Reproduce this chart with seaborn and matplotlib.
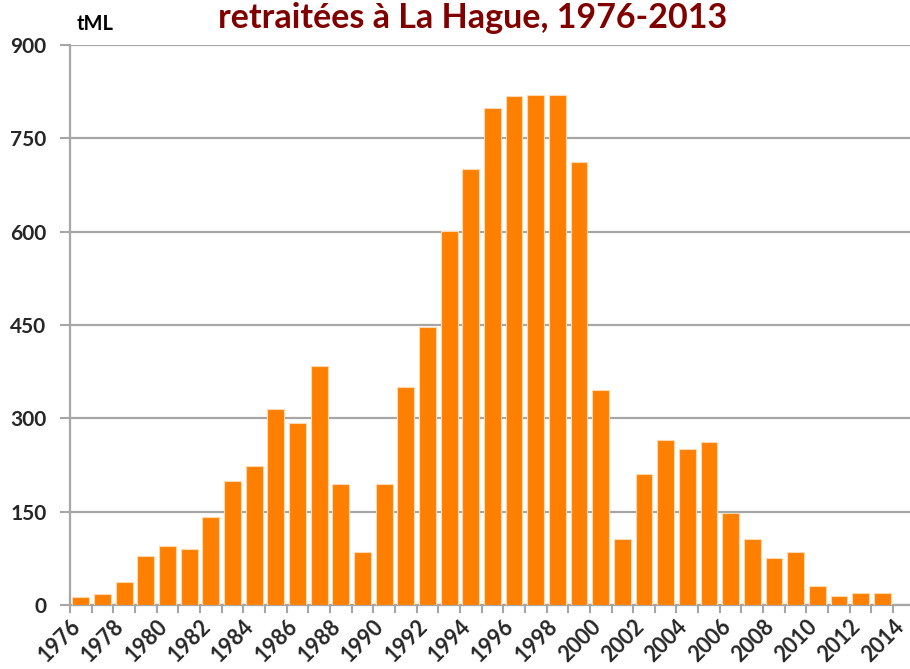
import matplotlib
matplotlib.use("Agg")
import matplotlib.pyplot as plt
import matplotlib.transforms as mtransforms
import seaborn as sns
import pandas as pd

years = list(range(1976, 2014))
values = [13, 18, 37, 79, 95, 90, 141, 200, 224, 315, 292, 384, 194, 85,
          194, 350, 447, 601, 700, 799, 818, 819, 820, 712, 346, 106, 210,
          265, 251, 262, 148, 106, 75, 85, 30, 14, 19, 19]
tick_years = list(range(1976, 2015))
y_ticks = [0, 150, 300, 450, 600, 750, 900]
title = "retraitées à La Hague, 1976-2013"
unit = "tML"

sns.set_theme(style="white")
plt.rcParams['font.family'] = ['Lato', 'DejaVu Sans']

df = pd.DataFrame({"year": [str(y) for y in years], "value": values})

fig = plt.figure(figsize=(9.1, 6.69), dpi=100)
ax = fig.add_axes([70/910, 1-605/669, 840/910, 560/669])

sns.barplot(data=df, x="year", y="value", color="#FF8000", saturation=1,
            width=0.78, edgecolor="#FFD9B0", linewidth=0.8, ax=ax, zorder=3)

ax.set_ylim(0, 900)
ax.set_xlim(-0.5, 38.28)
ax.set_yticks(y_ticks)
ax.set_yticklabels([str(v) for v in y_ticks], fontsize=15, fontweight="bold")
ax.yaxis.grid(True, color="#A6A6A6", linewidth=1.6, zorder=0)
ax.set_axisbelow(True)

pos = [i - 0.5 for i in range(len(tick_years))]
ax.set_xticks(pos)
labels = [str(y) if (y - 1976) % 2 == 0 else "" for y in tick_years]
ax.set_xticklabels(labels, rotation=45, ha="right", va="top",
                   rotation_mode="anchor", fontsize=15.5, fontweight="bold")
offset = mtransforms.ScaledTranslation(0.17, -0.08, fig.dpi_scale_trans)
for lab in ax.get_xticklabels():
    lab.set_transform(lab.get_transform() + offset)

ax.tick_params(axis="x", which="major", length=6, width=1.5, color="#A6A6A6",
               bottom=True, pad=2)
ax.tick_params(axis="y", which="major", length=7, width=1.5, color="#A6A6A6",
               left=True, pad=10)
ax.set_xlabel("")
ax.set_ylabel("")
for s in ["top", "right"]:
    ax.spines[s].set_visible(False)
for s in ["left", "bottom"]:
    ax.spines[s].set_color("#A6A6A6")
    ax.spines[s].set_linewidth(1.6)

fig.text(473/910, 1-28/669, title, ha="center", va="baseline", fontsize=24.5,
         fontweight="bold", color="#800000")
fig.text(77/910, 1-30/669, unit, ha="left", va="baseline", fontsize=14.5,
         fontweight="bold", color="black")

fig.savefig("out.png", dpi=100)
